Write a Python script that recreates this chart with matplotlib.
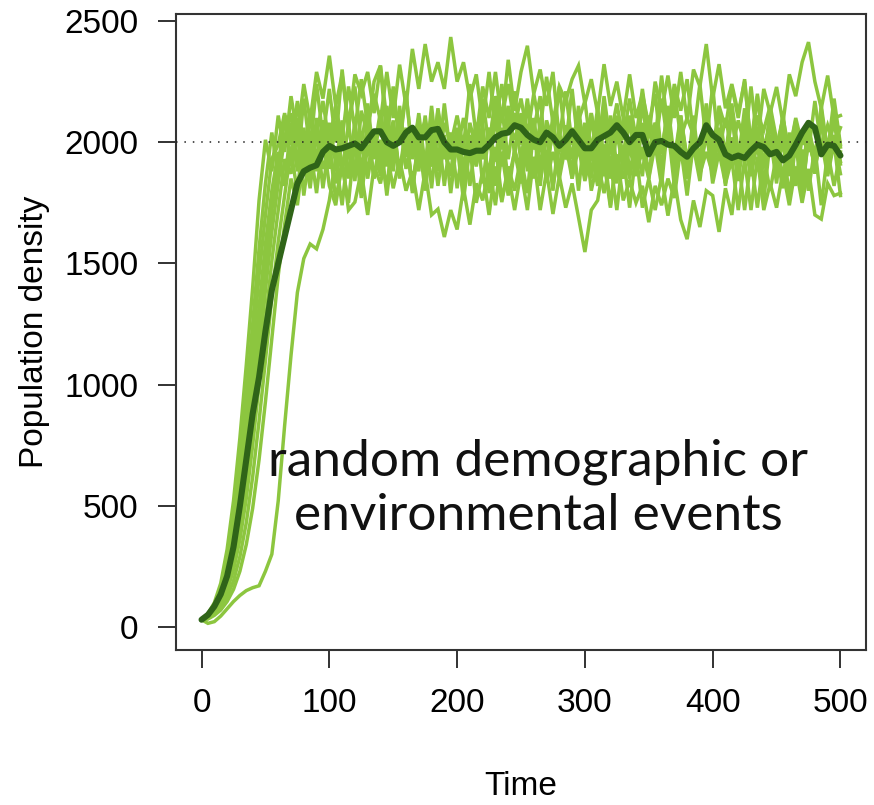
import numpy as np
import matplotlib
matplotlib.use("Agg")
import matplotlib.pyplot as plt

# Time grid of the simulated runs (every 5 time steps)
time = np.arange(0, 505, 5)

carrying_capacity = 2000

# Individual stochastic population trajectories
run_1 = [30, 55, 100, 180, 320, 520, 780, 1080, 1400, 1760,
         2010, 1880, 2110, 1960, 2190, 2030, 2240, 2090, 2290, 2180,
         2357, 2150, 2280, 2060, 2230, 1990, 2160, 1930, 2110, 1900,
         2080, 1870, 2040, 1820, 2010, 2090, 1900, 2140, 1960, 1880,
         2060, 1840, 2020, 1930, 2010, 1980, 2170, 1970, 2150, 1950,
         2120, 1910, 2090, 1880, 1960, 1820, 1980, 1940, 2020, 2090,
         2170, 1960, 2140, 1930, 2110, 1900, 1980, 1850, 2010, 1950,
         2040, 1970, 2180, 1990, 2210, 2020, 2100, 2030, 1930, 2110,
         1910, 2020, 1840, 1990, 1880, 2090, 1900, 2110, 2050, 2150,
         2010, 1850, 2040, 1830, 2020, 1960, 2170, 1980, 2070, 1990,
         2060]
run_2 = [30, 50, 90, 160, 280, 450, 680, 950, 1250, 1560,
         1830, 2040, 1860, 2110, 1920, 2170, 1970, 2030, 1940, 2090,
         1990, 2150, 2010, 2230, 2050, 2260, 2070, 2200, 2090, 2290,
         2100, 2320, 2150, 2385, 2220, 2405, 2250, 2330, 2220, 2434,
         2250, 2330, 2180, 2280, 2080, 2290, 2060, 2240, 2030, 2210,
         1990, 2180, 1970, 2060, 1900, 2040, 1880, 2070, 1930, 2150,
         1920, 2120, 1910, 1990, 1850, 2040, 1890, 2100, 1880, 1960,
         1850, 1990, 1820, 2090, 1890, 2110, 1920, 1990, 1900, 2120,
         1930, 2130, 1940, 2160, 1960, 2040, 1930, 2050, 1820, 2030,
         1830, 2050, 1960, 2100, 1990, 2090, 1870, 2100, 1900, 2140,
         1980]
run_3 = [30, 45, 80, 140, 240, 390, 600, 850, 1150, 1450,
         1700, 1930, 1990, 2120, 1990, 2160, 1960, 2130, 1880, 2070,
         1890, 2090, 1900, 1970, 1840, 2130, 2030, 2250, 2316, 2090,
         2190, 2010, 2210, 1930, 2120, 1900, 2100, 1880, 2080, 1990,
         2110, 1980, 2240, 2020, 2230, 2100, 2290, 2080, 2340, 2130,
         2290, 2398, 2200, 2300, 2150, 2290, 2010, 2210, 1990, 2080,
         1980, 2120, 1950, 2190, 1990, 2060, 1950, 2110, 1930, 2160,
         1960, 2080, 1900, 2060, 1820, 2030, 1900, 2050, 1930, 2160,
         1960, 2150, 2060, 2230, 2100, 2260, 1980, 2190, 1960, 2060,
         1960, 2100, 1860, 2050, 1830, 2050, 1950, 2100, 1950, 2090,
         1910]
run_4 = [30, 45, 75, 125, 210, 340, 520, 760, 1040, 1320,
         1580, 1800, 1960, 1820, 2080, 1880, 2000, 1860, 2100, 1890,
         1970, 1830, 2020, 1860, 2080, 1880, 2080, 1850, 1960, 1810,
         2060, 1850, 2040, 1960, 2100, 1840, 2030, 1820, 2010, 1930,
         2050, 1890, 2080, 1970, 2180, 1980, 2190, 2100, 2240, 2070,
         2180, 2030, 2200, 2050, 2270, 2080, 2230, 2170, 2260, 2316,
         2160, 2260, 2120, 2322, 2150, 2250, 2100, 2280, 2100, 2200,
         2070, 2200, 1950, 2150, 1930, 2110, 1930, 2040, 1880, 2060,
         1900, 2060, 1820, 2020, 1840, 2040, 1910, 2060, 1900, 2140,
         1930, 2060, 1900, 2020, 1810, 2010, 1930, 2150, 1960, 2180,
         1990]
run_5 = [30, 40, 70, 115, 190, 300, 460, 680, 940, 1220,
         1490, 1720, 1900, 2110, 1900, 2100, 1890, 2090, 2030, 2170,
         1990, 2150, 1870, 2080, 1870, 1990, 1850, 2010, 1860, 2090,
         1880, 2100, 1890, 2010, 1880, 2110, 1900, 2130, 1930, 2040,
         1810, 2010, 1820, 2030, 1930, 2060, 1920, 2140, 1930, 2120,
         1920, 2140, 2050, 2190, 1900, 2110, 1890, 2000, 1880, 2120,
         1890, 2110, 1900, 2130, 2020, 2160, 2010, 2180, 2010, 2220,
         2020, 2250, 2130, 2275, 2100, 2290, 2090, 2300, 2230, 2405,
         2180, 2322, 2140, 2240, 2120, 2250, 1990, 2200, 1970, 2080,
         1980, 2100, 1960, 2090, 1850, 2080, 1870, 2100, 1880, 2010,
         1870]
run_6 = [30, 40, 65, 105, 170, 270, 410, 610, 850, 1120,
         1390, 1630, 1830, 2020, 2120, 1900, 2180, 1960, 2240, 2020,
         2220, 2000, 2300, 2060, 2280, 2200, 2290, 2120, 2316, 2010,
         2230, 1990, 2200, 1960, 2060, 1900, 2120, 1900, 2160, 1940,
         2040, 1880, 2030, 1910, 2010, 1860, 2110, 1900, 2100, 2010,
         2100, 1880, 2100, 1890, 2090, 2000, 2230, 1990, 2220, 1970,
         2080, 1850, 2090, 1860, 1990, 1830, 2100, 1880, 1990, 1860,
         2110, 2000, 2275, 2060, 2240, 2130, 2260, 2020, 2240, 2000,
         2230, 1960, 2100, 1970, 2090, 1990, 2230, 2000, 2220, 2120,
         2228, 2080, 2280, 2190, 2330, 2413, 2250, 2140, 2275, 2100,
         2110]
run_7 = [30, 38, 60, 95, 150, 235, 360, 530, 750, 1000,
         1260, 1510, 1720, 1930, 1870, 2040, 1780, 1980, 1790, 2020,
         1820, 1740, 1930, 1720, 1753, 1880, 1700, 1900, 1830, 1960,
         1810, 1930, 1800, 1880, 1720, 1880, 1700, 1724, 1609, 1720,
         1640, 1810, 1660, 1830, 1760, 1900, 1740, 1960, 1780, 1970,
         1880, 2040, 1860, 2000, 1850, 2080, 1860, 2060, 1850, 1980,
         1840, 1960, 1820, 1960, 1740, 1950, 1760, 1840, 1750, 1820,
         1670, 1820, 1740, 1850, 1770, 1980, 1780, 2000, 1910, 2020,
         1910, 2050, 1900, 2120, 1920, 2140, 1910, 2020, 1900, 2120,
         1900, 2120, 1890, 2000, 1890, 2010, 1900, 2140, 1910, 2030,
         1920]
run_8 = [30, 35, 52, 80, 125, 190, 290, 430, 620, 850,
         1100, 1360, 1590, 1780, 1970, 1790, 2060, 1840, 2060, 1960,
         2080, 1910, 2090, 1850, 2080, 1850, 2070, 1960, 2130, 1950,
         2090, 1860, 2030, 1800, 2010, 1800, 2010, 1920, 2030, 1790,
         2010, 1800, 2010, 1900, 2080, 1790, 1980, 1770, 1870, 1720,
         1880, 1720, 1940, 1720, 1880, 1704, 1860, 1730, 1830, 1690,
         1547, 1720, 1760, 1920, 1730, 1940, 1850, 1980, 1860, 2080,
         1850, 2080, 1970, 2120, 1860, 2080, 1870, 2110, 1870, 1960,
         1870, 2040, 1880, 2120, 1880, 1990, 1860, 2000, 1760, 2010,
         1880, 2010, 1770, 2000, 1780, 2020, 1900, 2010, 1860, 2000,
         1780]
run_9 = [30, 33, 48, 70, 105, 155, 230, 340, 490, 690,
         930, 1190, 1450, 1660, 1850, 1740, 1960, 1810, 2050, 1810,
         2000, 1760, 1900, 1750, 2010, 1770, 1990, 1860, 2010, 1780,
         2000, 1880, 2060, 1790, 2020, 1880, 2150, 1910, 1980, 1860,
         1990, 1760, 1980, 1750, 1880, 1700, 1900, 1753, 1900, 1800,
         1940, 1790, 2060, 1820, 2050, 1800, 2040, 1930, 2060, 1800,
         2050, 1800, 1920, 1790, 1920, 1720, 1950, 1730, 1960, 1730,
         1850, 1720, 1860, 1697, 1850, 1680, 1600, 1760, 1650, 1800,
         1780, 1630, 1810, 1700, 1930, 1720, 1930, 1730, 1940, 1800,
         1950, 1810, 1960, 1820, 1970, 1800, 1980, 1740, 1960, 1820,
         1960]
run_10 = [30, 15, 22, 45, 75, 105, 130, 150, 162, 170,
          230, 300, 520, 830, 1120, 1380, 1520, 1580, 1560, 1640,
          1760, 1930, 1740, 1980, 1890, 2000, 1880, 2040, 1910, 2150,
          1920, 2150, 1940, 2040, 1920, 2080, 1810, 2060, 1820, 2030,
          1960, 2100, 1950, 2080, 1830, 2040, 1820, 2060, 1840, 1960,
          1830, 2010, 1850, 2090, 1840, 1960, 1850, 1990, 1850, 2100,
          1860, 2000, 1850, 2100, 1880, 2110, 1890, 2010, 1880, 1980,
          1880, 2010, 1860, 2100, 1870, 1960, 1850, 1980, 1840, 2060,
          1830, 1960, 1830, 1930, 1720, 1930, 1720, 1940, 1720, 1830,
          1730, 1880, 1740, 1900, 1750, 1890, 1700, 1683, 1830, 1780,
          1790]

runs = [run_1, run_2, run_3, run_4, run_5, run_6, run_7, run_8, run_9, run_10]

# Mean trajectory across runs
mean_run = [30, 50, 85, 135, 210, 330, 500, 690, 880, 1030,
            1220, 1390, 1500, 1610, 1720, 1830, 1880, 1895, 1905, 1960,
            1985, 1970, 1975, 1985, 1995, 1975, 2010, 2045, 2045, 2000,
            1985, 2000, 2040, 2060, 2020, 2020, 2050, 2055, 2000, 1970,
            1970, 1960, 1955, 1965, 1965, 1990, 2020, 2035, 2040, 2070,
            2060, 2030, 2010, 2000, 2040, 2020, 1985, 2010, 2045, 2010,
            1975, 1975, 2010, 2025, 2040, 2070, 2040, 2000, 2030, 2030,
            1950, 2000, 2005, 1990, 1985, 1960, 1940, 1975, 2000, 2070,
            2030, 2010, 1950, 1935, 1945, 1935, 1965, 1990, 1980, 1950,
            1960, 1925, 1945, 1990, 2040, 2080, 2060, 1950, 1990, 1985,
            1945]

x_ticks = [0, 100, 200, 300, 400, 500]
y_ticks = [0, 500, 1000, 1500, 2000, 2500]

LIGHT = "#8cc63f"
DARK = "#2f6418"

plt.rcParams["font.family"] = ["Liberation Sans", "DejaVu Sans"]

fig = plt.figure(figsize=(8.74, 8.05), dpi=100)
ax = fig.add_axes([176 / 874, 1 - 650 / 805, 690 / 874, 636 / 805])

for run in runs:
    ax.plot(time, run, color=LIGHT, lw=2.5, solid_joinstyle="miter", zorder=2)

ax.plot(time, mean_run, color=DARK, lw=4.4, solid_joinstyle="round",
        solid_capstyle="round", zorder=3)

ax.axhline(carrying_capacity, color="#222222", lw=1.1, ls=(0, (1, 4.5)), zorder=4)

ax.set_xlim(-20, 520)
ax.set_ylim(-95, 2529)
ax.set_xticks(x_ticks)
ax.set_yticks(y_ticks)
ax.tick_params(axis="both", direction="out", length=13, width=1.3,
               labelsize=24, pad=14, color="#222222")
for spine in ax.spines.values():
    spine.set_linewidth(1.5)
    spine.set_color("#333333")

fig.text(35 / 874, 1 - 332 / 805, "Population density", rotation=90,
         ha="center", va="center", fontsize=24)
fig.text(521 / 874, 1 - 786 / 805, "Time", ha="center", va="center", fontsize=24)

fig.text(538 / 874, 1 - 489 / 805, "random demographic or\nenvironmental events",
         ha="center", va="center", fontsize=37, family=["Lato", "DejaVu Sans"],
         linespacing=1.22, color="#111111", zorder=10)

fig.savefig("out.png", dpi=100)
